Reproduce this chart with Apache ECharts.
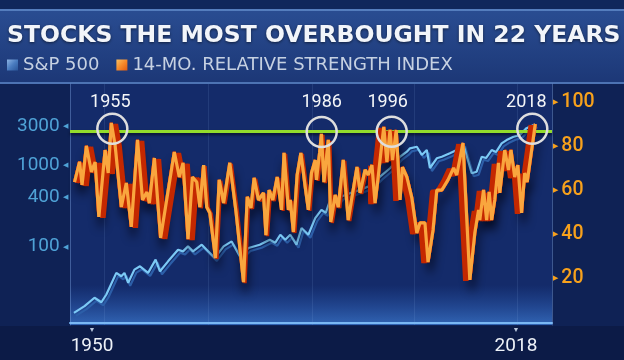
<!DOCTYPE html>
<html><head><meta charset="utf-8">
<script src="https://cdn.jsdelivr.net/npm/echarts@6/dist/echarts.min.js"></script>
<style>html,body{margin:0;padding:0;background:#0f2255}#c{width:624px;height:360px}</style>
</head><body><div id="c"></div>
<script>
const chartTitle = 'STOCKS THE MOST OVERBOUGHT IN 22 YEARS';
const spName = 'S&P 500';
const rsiName = '14-MO. RELATIVE STRENGTH INDEX';
const xTicks = [1950, 2018];
const spTicks = [100, 400, 1000, 3000];
const rsiTicks = [20, 40, 60, 80, 100];

const rsiYears = [1947.2,1948.0,1948.4,1949.1,1949.9,1950.5,1951.1,1952.1,1952.6,1953.1,1953.7,1954.7,1955.5,1956.3,1957.3,1958.1,1958.8,1959.2,1960.0,1961.0,
 1963.2,1964.0,1964.6,1965.4,1966.1,1966.8,1967.3,1967.9,1968.4,1968.9,1969.8,1970.4,1971.1,1972.1,1973.1,1974.3,1974.9,1975.5,1976.0,1976.7,
 1977.5,1977.9,1978.4,1979.0,1979.7,1980.4,1980.8,1981.5,1981.8,1982.3,1982.9,1983.5,1984.2,1984.7,1985.2,1985.8,1986.0,1986.5,1986.8,1987.2,
 1987.9,1988.3,1989.0,1989.5,1990.3,1991.1,1992.5,1993.0,1993.8,1994.3,1994.9,1995.4,1995.9,1996.5,1996.8,1997.3,1997.8,1998.2,1998.8,1999.4,
 1999.8,2000.5,2001.3,2002.1,2002.6,2003.4,2003.9,2004.7,2005.3,2006.1,2006.5,2007.1,2008.0,2008.5,2009.5,2010.6,2011.4,2012.0,2012.2,2012.8,
 2013.3,2013.7,2014.1,2014.6,2015.2,2015.4,2016.2,2016.8,2017.2,2017.8,2018.3,2018.9,2019.4,2019.8,2021.1];
const rsiValues = [63.6,72.8,62.3,80.0,68.2,72.7,47.8,78.1,67.7,90.4,80.4,52.3,63.2,43.3,82.7,55.5,59.1,54.1,74.5,38.3,
 77.2,65.9,72.3,37.8,65.9,63.6,52.3,71.3,52.3,49.6,29.2,64.6,54.1,72.3,50.1,18.3,56.9,51.9,65.5,55.5,
 58.7,39.6,60.0,55.5,65.9,51.0,76.8,51.0,55.5,41.0,66.8,76.8,61.4,51.0,67.7,73.6,64.6,76.8,85.4,63.6,
 82.7,45.5,57.8,52.3,73.6,46.4,70.4,58.7,69.1,66.8,71.3,54.1,65.9,81.3,88.6,72.7,87.2,73.6,87.2,55.5,
 70.4,65.9,56.4,40.5,45.1,45.1,27.4,41.9,60.0,60.0,61.8,64.6,70.0,66.8,81.3,19.3,40.5,51.0,46.4,60.0,
 46.4,59.1,46.4,55.5,72.3,58.7,78.1,69.1,78.1,65.9,71.3,49.6,67.7,63.6,89.9];

const spYears = [1947.1,1948.8,1950.4,1951.5,1952.3,1953.9,1954.7,1955.2,1955.8,1956.8,1957.7,1959.0,1960.2,1960.9,1962.2,1963.8,1964.6,1965.4,1966.2,1967.6,
 1969.7,1971.1,1972.4,1973.7,1975.1,1976.9,1978.5,1979.4,1980.2,1981.0,1981.8,1982.8,1983.6,1984.7,1985.8,1986.8,1987.5,1988.2,1989.0,1990.0,
 1991.4,1993.0,1994.9,1996.2,1997.8,1999.4,2000.5,2001.0,2002.1,2002.9,2003.7,2004.2,2005.3,2006.1,2007.4,2008.5,2009.5,2010.9,2011.7,2012.5,
 2013.2,2014.1,2014.8,2015.7,2016.5,2017.6,2018.6,2019.7,2021.1];
const spValues = [15.5,18.7,23.7,20.9,26.0,47.8,43.5,47.8,36.1,52.4,57.5,47.8,69.4,50.0,66.2,91.9,87.7,100.8,87.7,105.8,
 72.8,100.8,116,76.2,96.4,105.8,121.7,112,140,121.7,140,105.8,169,140,224,282,260,374,334,411,
 452,496,570,720,912,1262,1453,1600,1672,1324,1524,919,1207,1262,1389,1524,1841,792,828,1262,
 1217,1524,1441,1841,2018,2214,2323,2825,3162];

const overbought = 86.4;
const peakYears = [1953.26, 1986.84, 1998.07, 2020.62];
const peakValues = [87.7, 86.3, 86.4, 87.7];
const peakLabels = ['1955', '1986', '1996', '2018'];
const gridYears = [1951.92, 1968.60, 1985.28, 2001.64, 2018.16];

const X_MIN = 1946.47, X_MAX = 2023.78, X_A = 1967.32, X_B = 1994.59;
const R_MIN = -1.13, R_MAX = 108.02;
const L_MIN = 11.0, L_MAX = 9804;

const rsiData = rsiYears.map((y, i) => [y, rsiValues[i]]);
const spData = spYears.map((y, i) => [y, spValues[i]]);

const chart = echarts.init(document.getElementById('c'), null, {renderer: 'canvas'});
const NUM = 'Roboto';
const hiddenX = (min, max, gi) => ({type: 'value', gridIndex: gi, min, max, show: false});
const hiddenY = gi => ({type: 'value', gridIndex: gi, min: R_MIN, max: R_MAX, show: false});
const redSeries = (xi, yi, off, color, w) => ({
  type: 'line', xAxisIndex: xi, yAxisIndex: yi, data: rsiData, showSymbol: false, silent: true, z: 4,
  lineStyle: {color: color, width: w, shadowColor: '#c42800', shadowOffsetX: off, shadowOffsetY: 1, shadowBlur: 0}
});

const offsets = [[-2, -26.5], [0, -29.5], [-4, -29.5], [-6, -26.5]];

chart.setOption({
  backgroundColor: '#0f2255',
  animation: false,
  title: {
    text: chartTitle, left: 7, top: 24, padding: 0,
    textStyle: {fontFamily: 'DejaVu Sans', fontWeight: 'bold', fontSize: 23.5, color: '#f2f5fa',
      textShadowColor: 'rgba(0,0,0,0.55)', textShadowBlur: 3, textShadowOffsetY: 1}
  },
  legend: {
    left: 7, top: 56, padding: 0, itemWidth: 11, itemHeight: 11, itemGap: 17, selectedMode: false,
    textStyle: {fontFamily: 'DejaVu Sans', fontSize: 18, color: '#c6d1e2'},
    data: [
      {name: spName, icon: 'rect', itemStyle: {color: new echarts.graphic.LinearGradient(0,0,1,1,[{offset:0,color:'#8db4e4'},{offset:0.5,color:'#4a7cc0'},{offset:1,color:'#2a5598'}])}},
      {name: rsiName, icon: 'rect', itemStyle: {color: new echarts.graphic.LinearGradient(0,0,1,1,[{offset:0,color:'#fbc060'},{offset:0.5,color:'#f58a2a'},{offset:1,color:'#e05a10'}])}}
    ]
  },
  graphic: [
    {type: 'rect', z: -10, silent: true, shape: {x: 0, y: 0, width: 624, height: 9}, style: {fill: '#10275c'}},
    {type: 'rect', z: -10, silent: true, shape: {x: 0, y: 9, width: 624, height: 75},
      style: {fill: new echarts.graphic.LinearGradient(0,0,0,1,[{offset:0,color:'#2a4d92'},{offset:1,color:'#1c3776'}])}},
    {type: 'rect', z: -9, silent: true, shape: {x: 0, y: 9, width: 624, height: 2}, style: {fill: 'rgba(120,165,225,0.55)'}},
    {type: 'rect', z: -9, silent: true, shape: {x: 0, y: 82, width: 624, height: 2}, style: {fill: 'rgba(110,155,220,0.6)'}},
    {type: 'rect', z: -10, silent: true, shape: {x: 70, y: 84, width: 482, height: 241}, style: {fill: '#142b6a'}},
    {type: 'rect', z: -9, silent: true, shape: {x: 70, y: 285, width: 482, height: 40},
      style: {fill: new echarts.graphic.LinearGradient(0,0,0,1,[{offset:0,color:'rgba(50,110,210,0)'},{offset:1,color:'rgba(70,140,230,0.6)'}])}},
    {type: 'rect', z: -10, silent: true, shape: {x: 0, y: 326, width: 624, height: 34}, style: {fill: '#0c1b47'}}
  ],
  grid: [
    {left: 70, right: 72, top: 84, bottom: 35},
    {left: 70, width: 130, top: 84, bottom: 35},
    {left: 200, width: 170, top: 84, bottom: 35},
    {left: 370, right: 72, top: 84, bottom: 35}
  ],
  xAxis: [
    {type: 'value', gridIndex: 0, min: X_MIN, max: X_MAX,
      axisLine: {show: true, lineStyle: {color: '#7ab8f4', width: 2}},
      axisTick: {show: false}, splitLine: {show: false},
      axisLabel: {customValues: xTicks, margin: 1, formatter: v => '{t|▼}\n{v|' + v + '}',
        rich: {t: {fontSize: 7, color: '#b8c6dc', lineHeight: 9}, v: {fontFamily: NUM, fontSize: 19, color: '#eef2f8', lineHeight: 22}}}},
    hiddenX(X_MIN, X_A, 1), hiddenX(X_A, X_B, 2), hiddenX(X_B, X_MAX, 3)
  ],
  yAxis: [
    {type: 'log', gridIndex: 0, min: L_MIN, max: L_MAX, position: 'left',
      axisLine: {show: true, lineStyle: {color: 'rgba(130,170,230,0.4)', width: 1}},
      axisTick: {show: false}, splitLine: {show: false},
      axisLabel: {customValues: spTicks, margin: 2, formatter: v => '{v|' + v + '} {t|◀}',
        rich: {v: {fontFamily: NUM, fontSize: 19, color: '#4fa2d6'}, t: {fontSize: 7, color: '#4fa2d6'}}}},
    {type: 'value', gridIndex: 0, min: R_MIN, max: R_MAX, position: 'right',
      axisLine: {show: true, lineStyle: {color: 'rgba(130,170,230,0.4)', width: 1}},
      axisTick: {show: false}, splitLine: {show: false},
      axisLabel: {customValues: rsiTicks, margin: 1, formatter: v => '{t|▶} {v|' + v + '}',
        rich: {v: {fontFamily: NUM, fontWeight: 500, fontSize: 19.5, color: '#f7a11c'}, t: {fontSize: 7, color: '#f7a11c'}}}},
    hiddenY(1), hiddenY(2), hiddenY(3)
  ],
  series: [
    {name: spName, type: 'line', xAxisIndex: 0, yAxisIndex: 0, data: spData, showSymbol: false, z: 2,
      lineStyle: {color: '#7ccaf6', width: 2.2, shadowColor: '#2c5ea8', shadowOffsetX: 2, shadowOffsetY: 3, shadowBlur: 0},
      markLine: {silent: true, symbol: 'none', label: {show: false}, z: 1,
        lineStyle: {color: 'rgba(140,175,235,0.13)', width: 1, type: 'solid'},
        data: gridYears.map(y => ({xAxis: y}))}},
    {name: 'rsi-shadow', type: 'line', xAxisIndex: 0, yAxisIndex: 1, data: rsiData, showSymbol: false, silent: true, z: 3,
      lineStyle: {color: '#b82400', width: 3.2, shadowColor: 'rgba(0,0,12,0.85)', shadowBlur: 10, shadowOffsetX: 2, shadowOffsetY: 10},
      markLine: {silent: true, symbol: 'none', label: {show: false}, z: 3.5,
        lineStyle: {color: '#93dc2c', width: 3, type: 'solid', shadowColor: 'rgba(0,0,0,0.6)', shadowBlur: 3, shadowOffsetY: 2},
        data: [{yAxis: overbought}]}},
    redSeries(1, 2, 2.8, '#d02a00', 3.2),
    redSeries(1, 2, 5.2, '#d02a00', 3.2),
    redSeries(2, 3, 1.6, '#c84a0a', 3.2),
    redSeries(3, 4, -2.8, '#d02a00', 3.2),
    redSeries(3, 4, -5.2, '#d02a00', 3.2),
    {name: rsiName, type: 'line', xAxisIndex: 0, yAxisIndex: 1, data: rsiData, showSymbol: false, z: 5,
      lineStyle: {color: '#f9a63e', width: 3.2},
      markPoint: {silent: true, z: 6, symbol: 'circle', symbolSize: 30,
        itemStyle: {color: 'rgba(0,0,0,0)', borderColor: '#dedede', borderWidth: 2.5},
        label: {show: true, position: 'inside', fontFamily: NUM, fontSize: 18, color: '#f4f6f8',
          formatter: p => p.name},
        data: peakYears.map((y, i) => ({name: peakLabels[i], coord: [y, peakValues[i]], label: {offset: offsets[i]}}))}}
  ]
});
</script></body></html>
